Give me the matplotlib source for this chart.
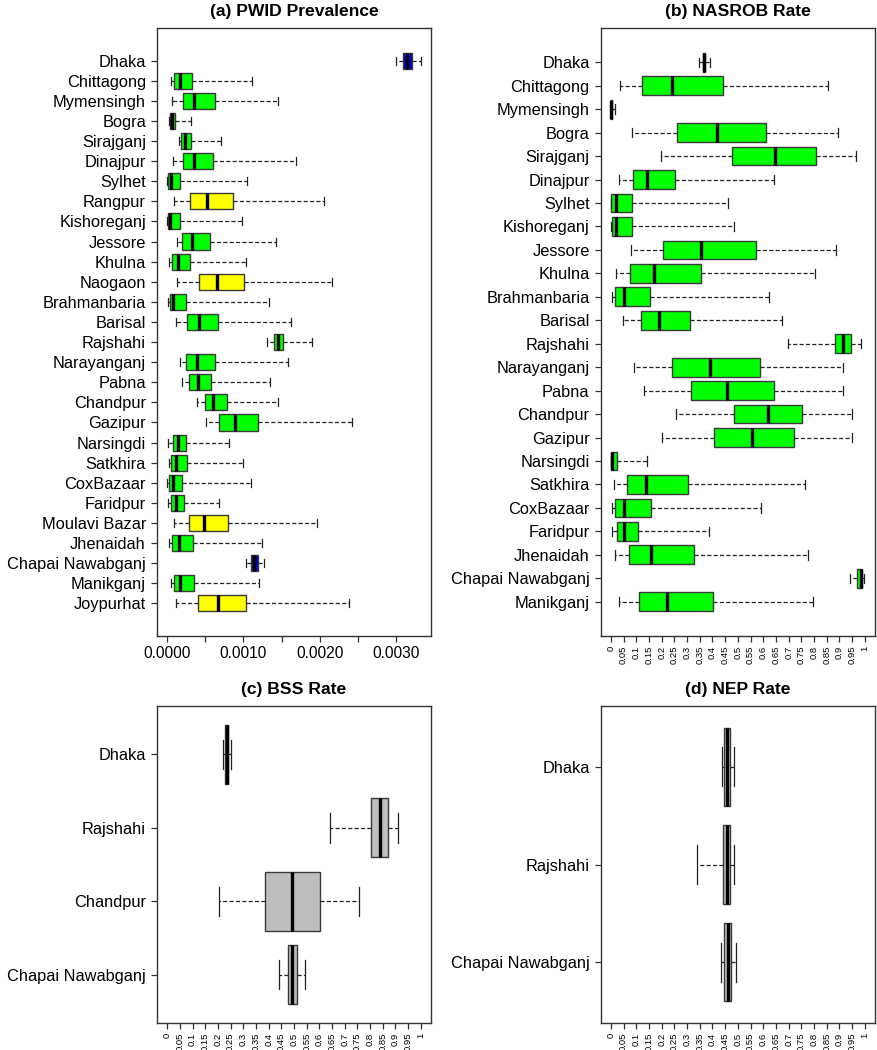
import numpy as np
import matplotlib.pyplot as plt

plt.rcParams['font.family'] = ['Liberation Sans', 'DejaVu Sans']

# ---- (a) PWID prevalence (values in units of 1e-3) ----
pwid_sites = ['Dhaka', 'Chittagong', 'Mymensingh', 'Bogra', 'Sirajganj', 'Dinajpur',
              'Sylhet', 'Rangpur', 'Kishoreganj', 'Jessore', 'Khulna', 'Naogaon',
              'Brahmanbaria', 'Barisal', 'Rajshahi', 'Narayanganj', 'Pabna', 'Chandpur',
              'Gazipur', 'Narsingdi', 'Satkhira', 'CoxBazaar', 'Faridpur', 'Moulavi Bazar',
              'Jhenaidah', 'Chapai Nawabganj', 'Manikganj', 'Joypurhat']
pwid_lo = np.array([2.996, 0.052, 0.061, 0.026, 0.162, 0.083, 0.004, 0.092, 0.004, 0.127,
                    0.031, 0.135, 0.009, 0.118, 1.306, 0.170, 0.197, 0.393, 0.515, 0.013,
                    0.022, 0.000, 0.013, 0.092, 0.026, 1.035, 0.048, 0.122]) * 1e-3
pwid_q1 = np.array([3.092, 0.096, 0.214, 0.044, 0.188, 0.214, 0.009, 0.306, 0.009, 0.201,
                    0.070, 0.424, 0.035, 0.258, 1.397, 0.253, 0.284, 0.502, 0.686, 0.074,
                    0.057, 0.026, 0.057, 0.293, 0.070, 1.105, 0.096, 0.410]) * 1e-3
pwid_med = np.array([3.148, 0.170, 0.358, 0.070, 0.236, 0.358, 0.048, 0.520, 0.044, 0.332,
                     0.144, 0.659, 0.079, 0.419, 1.450, 0.397, 0.406, 0.603, 0.886, 0.140,
                     0.118, 0.074, 0.118, 0.485, 0.153, 1.144, 0.175, 0.664]) * 1e-3
pwid_q3 = np.array([3.210, 0.332, 0.633, 0.100, 0.319, 0.607, 0.175, 0.869, 0.175, 0.559,
                    0.306, 1.013, 0.245, 0.664, 1.524, 0.629, 0.572, 0.782, 1.197, 0.245,
                    0.258, 0.201, 0.223, 0.803, 0.341, 1.188, 0.354, 1.039]) * 1e-3
pwid_hi = np.array([3.328, 1.118, 1.454, 0.314, 0.707, 1.686, 1.048, 2.057, 0.978, 1.432,
                    1.035, 2.162, 1.332, 1.629, 1.904, 1.581, 1.349, 1.454, 2.428, 0.817,
                    0.991, 1.096, 0.681, 1.969, 1.249, 1.271, 1.201, 2.384]) * 1e-3
pwid_fill = ['#0000CD'] + ['#00FF00'] * 6 + ['#FFFF00'] + ['#00FF00'] * 3 + ['#FFFF00'] + \
            ['#00FF00'] * 11 + ['#FFFF00', '#00FF00', '#0000CD', '#00FF00', '#FFFF00']

# ---- (b) NASROB rate ----
nas_sites = ['Dhaka', 'Chittagong', 'Mymensingh', 'Bogra', 'Sirajganj', 'Dinajpur',
             'Sylhet', 'Kishoreganj', 'Jessore', 'Khulna', 'Brahmanbaria', 'Barisal',
             'Rajshahi', 'Narayanganj', 'Pabna', 'Chandpur', 'Gazipur', 'Narsingdi',
             'Satkhira', 'CoxBazaar', 'Faridpur', 'Jhenaidah', 'Chapai Nawabganj', 'Manikganj']
nas_lo = [0.348, 0.035, 0.000, 0.083, 0.199, 0.031, 0.000, 0.000, 0.079, 0.022, 0.003, 0.047,
          0.697, 0.092, 0.130, 0.257, 0.202, 0.000, 0.012, 0.003, 0.005, 0.016, 0.940, 0.031]
nas_q1 = [0.362, 0.121, 0.000, 0.261, 0.478, 0.087, 0.001, 0.005, 0.205, 0.076, 0.017, 0.118,
          0.881, 0.240, 0.316, 0.483, 0.407, 0.000, 0.062, 0.017, 0.024, 0.072, 0.971, 0.112]
nas_med = [0.367, 0.239, 0.002, 0.417, 0.647, 0.144, 0.020, 0.021, 0.354, 0.168, 0.051, 0.188,
           0.915, 0.390, 0.458, 0.617, 0.556, 0.005, 0.139, 0.050, 0.050, 0.159, 0.983, 0.222]
nas_q3 = [0.372, 0.442, 0.004, 0.609, 0.806, 0.253, 0.083, 0.083, 0.571, 0.356, 0.155, 0.312,
          0.945, 0.588, 0.643, 0.752, 0.720, 0.025, 0.304, 0.159, 0.106, 0.329, 0.990, 0.403]
nas_hi = [0.390, 0.853, 0.016, 0.895, 0.966, 0.644, 0.463, 0.484, 0.888, 0.802, 0.623, 0.675,
          0.983, 0.915, 0.915, 0.949, 0.949, 0.142, 0.764, 0.592, 0.388, 0.776, 0.996, 0.797]
nas_fill = ['#00FF00'] * len(nas_sites)

# ---- (c) BSS rate ----
bss_sites = ['Dhaka', 'Rajshahi', 'Chandpur', 'Chapai Nawabganj']
bss_lo = [0.220, 0.641, 0.203, 0.442]
bss_q1 = [0.230, 0.805, 0.386, 0.476]
bss_med = [0.236, 0.838, 0.491, 0.493]
bss_q3 = [0.241, 0.869, 0.601, 0.513]
bss_hi = [0.251, 0.911, 0.757, 0.545]
bss_fill = ['#BEBEBE'] * 4

# ---- (d) NEP rate ----
nep_sites = ['Dhaka', 'Rajshahi', 'Chapai Nawabganj']
nep_lo = [0.437, 0.341, 0.432]
nep_q1 = [0.447, 0.442, 0.447]
nep_med = [0.459, 0.457, 0.461]
nep_q3 = [0.468, 0.468, 0.472]
nep_hi = [0.484, 0.484, 0.492]
nep_fill = ['#BEBEBE'] * 3

rate_ticks = np.round(np.arange(0, 1.0001, 0.05), 2)
rate_labels = ['%g' % t for t in rate_ticks]


def panel(ax, title, sites, lo, q1, med, q3, hi, fills, xlim, ticks, labels, small_ticks):
    n = len(sites)
    stats = []
    for i in range(n):
        stats.append(dict(whislo=lo[i], q1=q1[i], med=med[i], q3=q3[i], whishi=hi[i]))
    pos = np.arange(1, n + 1)
    bp = ax.bxp(stats, positions=pos, widths=0.8, capwidths=0.4, orientation='horizontal',
                patch_artist=True, showfliers=False,
                boxprops=dict(edgecolor='#3a3a3a', linewidth=1.0),
                medianprops=dict(color='black', linewidth=2.4, solid_capstyle='butt'),
                whiskerprops=dict(color='#222222', linewidth=0.9, linestyle=(0, (3.3, 1.8))),
                capprops=dict(color='#222222', linewidth=0.9))
    for patch, c in zip(bp['boxes'], fills):
        patch.set_facecolor(c)
    ax.set_ylim(n + 0.5 + 0.04 * n, 0.5 - 0.04 * n)
    ax.set_xlim(*xlim)
    ax.set_yticks(pos)
    ax.set_yticklabels(sites, fontsize=11.8)
    ax.set_xticks(ticks)
    if small_ticks:
        ax.set_xticklabels(labels, rotation=90, fontsize=6.8, va='top')
    else:
        ax.set_xticklabels(labels, fontsize=11.2)
    ax.tick_params(axis='both', direction='out', length=4, width=0.9, color='#333333')
    ax.tick_params(axis='y', pad=4)
    ax.tick_params(axis='x', pad=3)
    for s in ax.spines.values():
        s.set_color('#333333')
        s.set_linewidth(1.0)
    ax.set_title(title, fontsize=12.6, fontweight='bold', pad=9)


fig = plt.figure(figsize=(8.78, 10.5), dpi=100)
ax_a = fig.add_axes([0.1788, 0.3943, 0.3121, 0.5790])
ax_b = fig.add_axes([0.6842, 0.3943, 0.3124, 0.5790])
ax_c = fig.add_axes([0.1788, 0.0257, 0.3121, 0.3019])
ax_d = fig.add_axes([0.6842, 0.0257, 0.3124, 0.3019])

pwid_ticks = [0, 0.0005, 0.001, 0.0015, 0.002, 0.0025, 0.003]
pwid_labels = ['0.0000', '', '0.0010', '', '0.0020', '', '0.0030']

panel(ax_a, '(a) PWID Prevalence', pwid_sites, pwid_lo, pwid_q1, pwid_med, pwid_q3, pwid_hi,
      pwid_fill, (-0.000133, 0.00346), pwid_ticks, pwid_labels, False)
panel(ax_b, '(b) NASROB Rate', nas_sites, nas_lo, nas_q1, nas_med, nas_q3, nas_hi,
      nas_fill, (-0.04, 1.04), rate_ticks, rate_labels, True)
panel(ax_c, '(c) BSS Rate', bss_sites, bss_lo, bss_q1, bss_med, bss_q3, bss_hi,
      bss_fill, (-0.04, 1.04), rate_ticks, rate_labels, True)
panel(ax_d, '(d) NEP Rate', nep_sites, nep_lo, nep_q1, nep_med, nep_q3, nep_hi,
      nep_fill, (-0.04, 1.04), rate_ticks, rate_labels, True)

plt.savefig('out.png', dpi=100)
